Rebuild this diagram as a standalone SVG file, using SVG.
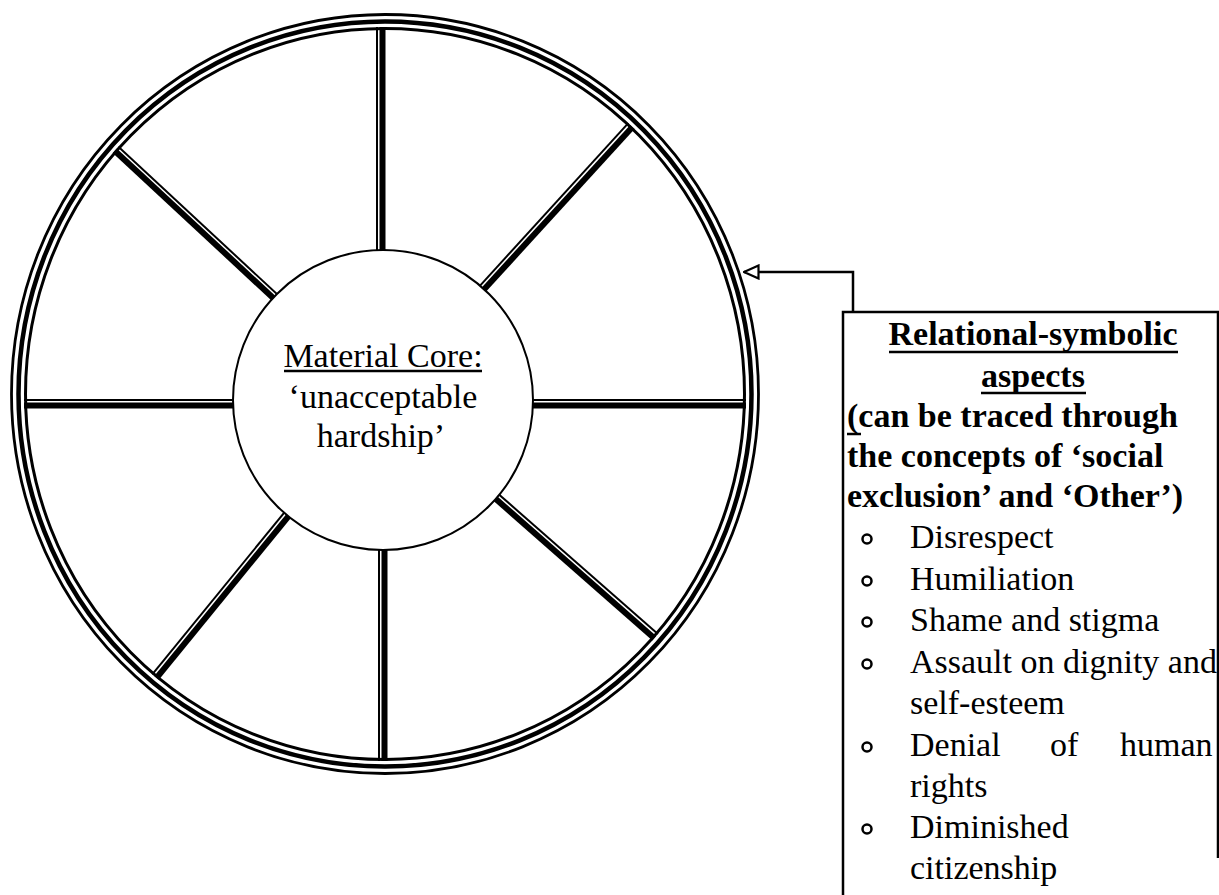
<svg xmlns="http://www.w3.org/2000/svg" width="1219" height="895" viewBox="0 0 1219 895">
<style>
.bg{fill:#fff}
.thin{stroke:#000;stroke-width:2;fill:none}
.thick{stroke:#000;stroke-width:6;fill:none}
.ring{fill:none;stroke:#000}
.t{font-family:"Liberation Serif","Times New Roman",serif;font-size:34px;fill:#000}
.b{font-weight:bold}
.ul{stroke:#000;stroke-width:2.5}
.bullet{fill:none;stroke:#000;stroke-width:2.5}
.conn{fill:none;stroke:#000;stroke-width:2.5}
</style>
<defs>
<marker id="openArrow" markerUnits="userSpaceOnUse" viewBox="0 0 17 16" refX="16" refY="8" markerWidth="17" markerHeight="16" orient="auto">
<path d="M1.5,1.5 L16,8 L1.5,14.5 Z" fill="#fff" stroke="#000" stroke-width="2.2" stroke-linejoin="miter"/>
</marker>
</defs>
<rect class="bg" x="0" y="0" width="1219" height="895"/>

<g id="wheel">
<g id="spokes">
<line class="thin" x1="377" y1="27" x2="377" y2="262"/>
<line class="thick" x1="382.5" y1="27" x2="382.5" y2="262"/>
<line class="thin" x1="379" y1="536" x2="379" y2="761"/>
<line class="thick" x1="384.5" y1="536" x2="384.5" y2="761"/>
<line class="thin" x1="24" y1="400" x2="240" y2="400"/>
<line class="thick" x1="24" y1="405.5" x2="240" y2="405.5"/>
<line class="thin" x1="525" y1="400" x2="746" y2="400"/>
<line class="thick" x1="525" y1="405.5" x2="746" y2="405.5"/>
<line class="thin" x1="283.1" y1="299.8" x2="118.4" y2="146.7"/>
<line class="thick" x1="279.4" y1="303.8" x2="114.7" y2="150.7"/>
<line class="thin" x1="474.4" y1="291.8" x2="628.3" y2="123.2"/>
<line class="thick" x1="478.5" y1="295.5" x2="632.4" y2="126.9"/>
<line class="thin" x1="490.9" y1="487.4" x2="657.9" y2="634.1"/>
<line class="thick" x1="487.3" y1="491.5" x2="654.3" y2="638.2"/>
<line class="thin" x1="291.3" y1="504" x2="152.3" y2="674.3"/>
<line class="thick" x1="295.6" y1="507.5" x2="156.6" y2="677.8"/>
</g>
<g id="rim">
<ellipse class="ring" cx="385" cy="394" rx="373.5" ry="379.5" stroke-width="2.8"/>
<ellipse class="ring" cx="385" cy="394" rx="366.5" ry="372.5" stroke-width="4.5"/>
<ellipse class="ring" cx="385" cy="394" rx="359.5" ry="365.5" stroke-width="3"/>
</g>
</g>

<g id="core">
<circle cx="383" cy="400" r="150" fill="#fff" stroke="#000" stroke-width="2"/>
<text class="t" x="383" y="367" text-anchor="middle">Material Core:</text>
<line class="ul" x1="284" y1="371" x2="482" y2="371" stroke-width="2"/>
<text class="t" x="383" y="408" text-anchor="middle">‘unacceptable</text>
<text class="t" x="381" y="447" text-anchor="middle">hardship’</text>
</g>

<g id="connectors">
<path class="conn" d="M853,312 L853,272 L744,272" marker-end="url(#openArrow)"/>
</g>

<g id="relational-box">
<path d="M843,895 L843,312 L1218,312 L1218,858" fill="none" stroke="#000" stroke-width="2.5"/>
<text class="t b" x="1033" y="345" text-anchor="middle">Relational-symbolic</text>
<line class="ul" x1="889" y1="352" x2="1178" y2="352"/>
<text class="t b" x="1033" y="387" text-anchor="middle">aspects</text>
<line class="ul" x1="981" y1="393" x2="1086" y2="393"/>
<text class="t b" x="847" y="427">(can be traced through</text>
<line class="ul" x1="847" y1="434" x2="861" y2="434"/>
<text class="t b" x="847" y="467">the concepts of ‘social</text>
<text class="t b" x="847" y="507">exclusion’ and ‘Other’)</text>
<circle class="bullet" cx="867" cy="539" r="4.5"/>
<text class="t" x="910" y="548">Disrespect</text>
<circle class="bullet" cx="867" cy="581" r="4.5"/>
<text class="t" x="910" y="590">Humiliation</text>
<circle class="bullet" cx="867" cy="622" r="4.5"/>
<text class="t" x="910" y="631">Shame and stigma</text>
<circle class="bullet" cx="867" cy="664" r="4.5"/>
<text class="t" x="910" y="673">Assault on dignity and</text>
<text class="t" x="910" y="714">self-esteem</text>
<circle class="bullet" cx="867" cy="747" r="4.5"/>
<text class="t" x="910" y="756">Denial</text>
<text class="t" x="1050" y="756">of</text>
<text class="t" x="1120" y="756">human</text>
<text class="t" x="910" y="797">rights</text>
<circle class="bullet" cx="867" cy="829" r="4.5"/>
<text class="t" x="910" y="838">Diminished</text>
<text class="t" x="910" y="879">citizenship</text>
</g>
</svg>
